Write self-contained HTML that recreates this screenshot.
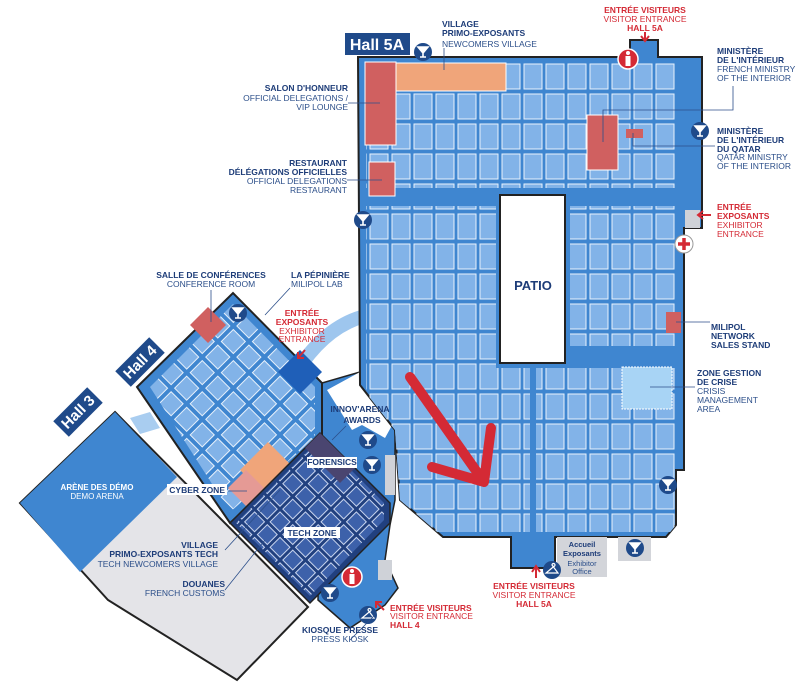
<!DOCTYPE html>
<html><head><meta charset="utf-8"><style>
html,body{margin:0;padding:0;background:#fff}
svg{display:block}
text{font-family:"Liberation Sans",sans-serif}
.b{font-weight:bold;fill:#1d3c78;font-size:8.5px}
.r{fill:#2c4f8a;font-size:8.5px}
.rb{font-weight:bold;fill:#d42a35;font-size:8.5px}
.rr{fill:#d42a35;font-size:8.5px}
.ld{stroke:#2c4f8a;stroke-width:0.8;fill:none}
</style></head><body>
<svg width="800" height="691" viewBox="0 0 800 691" xmlns="http://www.w3.org/2000/svg">
<defs>
<pattern id="bp" width="22" height="30" patternUnits="userSpaceOnUse" x="368" y="62">
<rect x="2" y="2" width="18" height="25" fill="#82b3e8" stroke="#e8f1fb" stroke-width="1"/></pattern>
<pattern id="bp4" width="22" height="22" patternUnits="userSpaceOnUse" patternTransform="rotate(45)">
<rect x="2" y="2" width="17" height="17" fill="#82b3e8" stroke="#e8f1fb" stroke-width="1"/></pattern>
<pattern id="bpt" width="18" height="18" patternUnits="userSpaceOnUse" patternTransform="rotate(45)">
<rect x="2" y="2" width="14" height="14" fill="#3d61aa" stroke="#c9d5ef" stroke-width="1"/></pattern>
<clipPath id="h5"><polygon points="358,57 630,57 630,40 658,40 658,57 702,57 702,228 684,228 684,470 676,470 676,525 666,537 555,537 555,568 511,568 511,537 443,537 400,500 395,430 360,385"/></clipPath>
<g id="bar"><circle r="9" fill="#1f4a8a"/><path d="M-5,-5 L5,-5 L0,1 Z M0,1 L0,5 M-3,5 L3,5" stroke="#fff" stroke-width="1.6" fill="#fff"/></g>
<g id="cl"><circle r="9" fill="#1f4a8a"/><path d="M0,-5 a1.5,1.5 0 1 1 1.5,1.5 L0,-2 L-6,3 L6,3 Z" stroke="#fff" stroke-width="1.2" fill="none"/></g>
<g id="info"><circle r="10" fill="#d42a35" stroke="#fff" stroke-width="1.5"/><rect x="-2.5" y="-3" width="5" height="10" fill="#fff"/><circle cy="-6" r="2" fill="#fff"/></g>
</defs>

<!-- Hall 3 -->
<polygon points="115,412 308,607 237,680 108,600 20,503" fill="#e4e4e8" stroke="#222" stroke-width="2"/>
<polygon points="115,412 177,477 80,572 20,503" fill="#3f86d0"/>
<polygon points="130,418 150,412 160,428 140,434" fill="#a9cdf0"/>
<g transform="translate(78,412) rotate(-45)"><rect x="-24" y="-11" width="48" height="22" fill="#1f4a8a"/><text x="0" y="5" text-anchor="middle" fill="#fff" font-weight="bold" font-size="15">Hall 3</text></g>

<!-- link area -->
<polygon points="322,383 360,372 395,420 395,500 390,525 385,560 398,588 385,605 350,628 318,600" fill="#3f86d0" stroke="#222" stroke-width="1.5"/>
<polygon points="327,390 352,430 362,425 385,438 395,420 360,372" fill="#fff"/>
<rect x="385" y="455" width="10" height="40" fill="#cfd2d8"/>
<rect x="378" y="560" width="14" height="20" fill="#cfd2d8"/>

<!-- Hall 4 -->
<polygon points="137,387 233,293 322,383 322,440 230,523" fill="#3f86d0" stroke="#222" stroke-width="2"/>
<polygon points="150,387 233,304 315,387 315,438 230,512" fill="url(#bp4)"/>
<path d="M303,362 Q330,325 365,316" stroke="#9ec6ee" stroke-width="14" fill="none"/>
<polygon points="278,372 300,350 322,372 300,394" fill="#1f5fb8"/>
<polygon points="190,325 208,307 226,325 208,343" fill="#d06060"/>
<polygon points="240,470 268,442 300,474 272,502" fill="#f0a57a"/>
<polygon points="228,488 246,470 268,492 250,510" fill="#e59a95"/>
<g transform="translate(140,362) rotate(-45)"><rect x="-24" y="-11" width="48" height="22" fill="#1f4a8a"/><text x="0" y="5" text-anchor="middle" fill="#fff" font-weight="bold" font-size="15">Hall 4</text></g>

<!-- Tech zone -->
<polygon points="230,523 320,433 390,503 390,523 310,603" fill="#21407f" stroke="#222" stroke-width="1.5"/>
<polygon points="236,523 320,439 384,503 384,520 310,596" fill="url(#bpt)"/>
<polygon points="305,448 320,433 355,468 340,483" fill="#4a4570"/>

<!-- Hall 5A -->
<polygon points="358,57 630,57 630,40 658,40 658,57 702,57 702,228 684,228 684,470 676,470 676,525 666,537 555,537 555,568 511,568 511,537 443,537 400,500 395,430 360,385" fill="#3f86d0" stroke="#222" stroke-width="2"/>
<g clip-path="url(#h5)">
<rect x="366" y="62" width="310" height="126" fill="url(#bp)"/>
<rect x="366" y="206" width="130" height="300" fill="url(#bp)"/>
<rect x="570" y="206" width="106" height="140" fill="url(#bp)"/>
<rect x="366" y="368" width="164" height="164" fill="url(#bp)"/>
<rect x="536" y="368" width="140" height="164" fill="url(#bp)"/>
</g>
<rect x="500" y="195" width="65" height="168" fill="#fff" stroke="#222" stroke-width="2"/>
<text x="533" y="290" text-anchor="middle" font-weight="bold" font-size="13" fill="#1d3c78">PATIO</text>
<rect x="365" y="62" width="31" height="83" fill="#d06060" stroke="#fff"/>
<rect x="369" y="162" width="26" height="34" fill="#d06060" stroke="#fff"/>
<rect x="396" y="63" width="110" height="28" fill="#f0a57a" stroke="#fff"/>
<rect x="587" y="115" width="31" height="55" fill="#d06060" stroke="#fff"/>
<rect x="626" y="129" width="17" height="9" fill="#d06060"/>
<rect x="666" y="312" width="15" height="21" fill="#d06060"/>
<rect x="622" y="367" width="50" height="42" fill="#a8d4f5" stroke="#fff" stroke-dasharray="2,1"/>
<rect x="685" y="210" width="15" height="18" fill="#cfd2d8"/>
<rect x="557" y="537" width="50" height="40" fill="#d3d5da"/>
<text x="582" y="547" text-anchor="middle" font-weight="bold" font-size="7.5" fill="#1d3c78">Accueil</text>
<text x="582" y="556" text-anchor="middle" font-weight="bold" font-size="7.5" fill="#1d3c78">Exposants</text>
<text x="582" y="566" text-anchor="middle" font-size="7.5" fill="#2c4f8a">Exhibitor</text>
<text x="582" y="574" text-anchor="middle" font-size="7.5" fill="#2c4f8a">Office</text>
<rect x="618" y="537" width="33" height="24" fill="#d3d5da"/>

<rect x="345" y="33" width="65" height="22" fill="#1f4a8a"/>
<text x="377" y="50" text-anchor="middle" fill="#fff" font-weight="bold" font-size="16">Hall 5A</text>

<!-- red arrow -->
<path d="M410,377 L484,482 M491,428 L484,482 L432,467" stroke="#d42a35" stroke-width="10" stroke-linecap="round" stroke-linejoin="round" fill="none"/>

<!-- icons -->
<use href="#bar" x="423" y="52"/><use href="#bar" x="363" y="220"/><use href="#bar" x="700" y="131"/>
<use href="#bar" x="668" y="485"/><use href="#bar" x="635" y="548"/><use href="#bar" x="238" y="313"/>
<use href="#bar" x="368" y="440"/><use href="#bar" x="372" y="465"/><use href="#bar" x="330" y="593"/>
<use href="#cl" x="552" y="570"/><use href="#cl" x="368" y="615"/>
<use href="#info" x="628" y="59"/><use href="#info" x="352" y="577"/>
<circle cx="684" cy="244" r="9" fill="#fff" stroke="#999"/><path d="M684,238 V250 M678,244 H690" stroke="#d42a35" stroke-width="3.5"/>
<path d="M645,32 V40 M641,36 L645,41 L649,36" stroke="#d42a35" stroke-width="2" fill="none"/>
<path d="M711,215 H698 M703,211 L698,215 L703,219" stroke="#d42a35" stroke-width="2" fill="none"/>
<path d="M536,578 V568 M532,572 L536,566 L540,572" stroke="#d42a35" stroke-width="2" fill="none"/>
<path d="M384,610 L376,602 M376,608 V602 H382" stroke="#d42a35" stroke-width="2" fill="none"/>
<path d="M305,350 L298,358 M298,352 V358 H304" stroke="#d42a35" stroke-width="2" fill="none"/>

<!-- leaders -->
<path class="ld" d="M444,48 V70 M348,103 H380 M347,180 H382 M733,86 V110 H603 V142 M633,133 V146 H715 M676,322 H710 M650,387 H695 M211,290 V322 M290,288 L265,315 M346,426 L332,440 M228,491 H247 M225,550 L280,490 M225,590 L265,540 M350,640 L375,615"/>

<!-- labels -->
<text class="b" x="442" y="27">VILLAGE</text>
<text class="b" x="442" y="36">PRIMO-EXPOSANTS</text>
<text class="r" x="442" y="47">NEWCOMERS VILLAGE</text>
<text class="rb" x="645" y="13" text-anchor="middle">ENTRÉE VISITEURS</text>
<text class="rr" x="645" y="22" text-anchor="middle">VISITOR ENTRANCE</text>
<text class="rb" x="645" y="31" text-anchor="middle">HALL 5A</text>
<text class="b" x="717" y="54">MINISTÈRE</text>
<text class="b" x="717" y="63">DE L'INTÉRIEUR</text>
<text class="r" x="717" y="72">FRENCH MINISTRY</text>
<text class="r" x="717" y="81">OF THE INTERIOR</text>
<text class="b" x="717" y="134">MINISTÈRE</text>
<text class="b" x="717" y="143">DE L'INTÉRIEUR</text>
<text class="b" x="717" y="152">DU QATAR</text>
<text class="r" x="717" y="160">QATAR MINISTRY</text>
<text class="r" x="717" y="169">OF THE INTERIOR</text>
<text class="rb" x="717" y="210">ENTRÉE</text>
<text class="rb" x="717" y="219">EXPOSANTS</text>
<text class="rr" x="717" y="228">EXHIBITOR</text>
<text class="rr" x="717" y="237">ENTRANCE</text>
<text class="b" x="711" y="330">MILIPOL</text>
<text class="b" x="711" y="339">NETWORK</text>
<text class="b" x="711" y="348">SALES STAND</text>
<text class="b" x="697" y="376">ZONE GESTION</text>
<text class="b" x="697" y="385">DE CRISE</text>
<text class="r" x="697" y="394">CRISIS</text>
<text class="r" x="697" y="403">MANAGEMENT</text>
<text class="r" x="697" y="412">AREA</text>
<text class="b" x="348" y="91" text-anchor="end">SALON D'HONNEUR</text>
<text class="r" x="348" y="101" text-anchor="end">OFFICIAL DELEGATIONS /</text>
<text class="r" x="348" y="110" text-anchor="end">VIP LOUNGE</text>
<text class="b" x="347" y="166" text-anchor="end">RESTAURANT</text>
<text class="b" x="347" y="175" text-anchor="end">DÉLÉGATIONS OFFICIELLES</text>
<text class="r" x="347" y="184" text-anchor="end">OFFICIAL DELEGATIONS</text>
<text class="r" x="347" y="193" text-anchor="end">RESTAURANT</text>
<text class="b" x="211" y="278" text-anchor="middle">SALLE DE CONFÉRENCES</text>
<text class="r" x="211" y="287" text-anchor="middle">CONFERENCE ROOM</text>
<text class="b" x="291" y="278">LA PÉPINIÈRE</text>
<text class="r" x="291" y="287">MILIPOL LAB</text>
<text class="rb" x="302" y="316" text-anchor="middle">ENTRÉE</text>
<text class="rb" x="302" y="325" text-anchor="middle">EXPOSANTS</text>
<text class="rr" x="302" y="334" text-anchor="middle">EXHIBITOR</text>
<text class="rr" x="302" y="342" text-anchor="middle">ENTRANCE</text>
<text class="b" x="360" y="412" text-anchor="middle">INNOV'ARENA</text>
<text class="b" x="362" y="423" text-anchor="middle">AWARDS</text>
<rect x="307" y="457" width="50" height="11" fill="#fff"/>
<text class="b" x="332" y="465" text-anchor="middle">FORENSICS</text>
<rect x="167" y="484" width="60" height="11" fill="#fff"/>
<text class="b" x="225" y="493" text-anchor="end">CYBER ZONE</text>
<rect x="284" y="527" width="56" height="11" fill="#fff"/>
<text class="b" x="312" y="536" text-anchor="middle">TECH ZONE</text>
<text x="97" y="490" text-anchor="middle" font-weight="bold" font-size="8" fill="#fff">ARÈNE DES DÉMO</text>
<text x="97" y="499" text-anchor="middle" font-size="8" fill="#fff">DEMO ARENA</text>
<text class="b" x="218" y="548" text-anchor="end">VILLAGE</text>
<text class="b" x="218" y="557" text-anchor="end">PRIMO-EXPOSANTS TECH</text>
<text class="r" x="218" y="567" text-anchor="end">TECH NEWCOMERS VILLAGE</text>
<text class="b" x="225" y="587" text-anchor="end">DOUANES</text>
<text class="r" x="225" y="596" text-anchor="end">FRENCH CUSTOMS</text>
<text class="b" x="340" y="633" text-anchor="middle">KIOSQUE PRESSE</text>
<text class="r" x="340" y="642" text-anchor="middle">PRESS KIOSK</text>
<text class="rb" x="390" y="611">ENTRÉE VISITEURS</text>
<text class="rr" x="390" y="619">VISITOR ENTRANCE</text>
<text class="rb" x="390" y="628">HALL 4</text>
<text class="rb" x="534" y="589" text-anchor="middle">ENTRÉE VISITEURS</text>
<text class="rr" x="534" y="598" text-anchor="middle">VISITOR ENTRANCE</text>
<text class="rb" x="534" y="607" text-anchor="middle">HALL 5A</text>
</svg>
</body></html>
